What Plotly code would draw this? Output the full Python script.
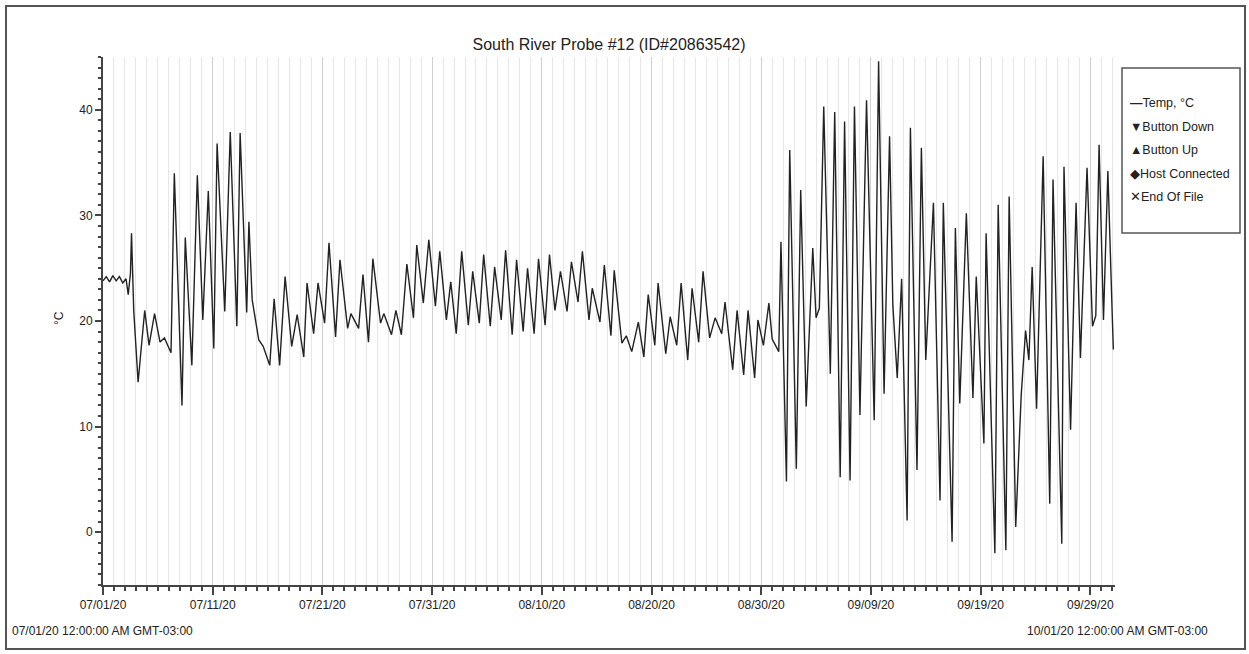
import pandas as pd
import plotly.graph_objects as go

# ---- data (day offset from 07/01/20 00:00, temperature °C) ----
day_offset = [
    0.0, 0.3, 0.6, 0.9, 1.2, 1.5, 1.8, 2.1, 2.3, 2.5, 2.6, 2.8, 3.2, 3.8, 4.2, 4.7, 5.2, 5.6, 6.2,
    6.5, 7.2, 7.5, 8.1, 8.6, 9.1, 9.6, 10.1, 10.4, 11.1, 11.6, 12.2, 12.5, 13.1, 13.3, 13.6,
    14.2, 14.6, 15.2, 15.6, 16.1, 16.6, 17.2, 17.7, 18.3, 18.6, 19.2, 19.6, 20.2, 20.6, 21.2,
    21.6, 22.3, 22.6, 23.3, 23.7, 24.2, 24.6, 25.3, 25.6, 26.3, 26.7, 27.2, 27.7, 28.3, 28.6,
    29.2, 29.7, 30.3, 30.7, 31.3, 31.7, 32.2, 32.7, 33.3, 33.7, 34.3, 34.7, 35.3, 35.7, 36.3,
    36.7, 37.3, 37.7, 38.3, 38.7, 39.3, 39.7, 40.3, 40.7, 41.2, 41.7, 42.3, 42.7, 43.3, 43.7,
    44.3, 44.6, 45.3, 45.7, 46.3, 46.6, 47.3, 47.7, 48.2, 48.8, 49.3, 49.7, 50.3, 50.6, 51.3,
    51.7, 52.3, 52.7, 53.3, 53.7, 54.3, 54.7, 55.3, 55.8, 56.4, 56.7, 57.4, 57.8, 58.4, 58.8,
    59.4, 59.7, 60.2, 60.7, 61.0, 61.6, 61.8, 62.3, 62.6, 63.2, 63.6, 64.1, 64.7, 65.0, 65.3,
    65.7, 66.3, 66.7, 67.2, 67.6, 68.1, 68.5, 69.0, 69.6, 70.3, 70.7, 71.2, 71.7, 72.0, 72.4,
    72.8, 73.3, 73.6, 74.2, 74.6, 75.0, 75.7, 76.3, 76.6, 77.4, 77.7, 78.1, 78.7, 79.3, 79.6, 80.3,
    80.5, 81.3, 81.6, 82.3, 82.6, 83.2, 83.7, 84.1, 84.4, 84.7, 85.1, 85.7, 86.3, 86.6, 87.4,
    87.6, 88.2, 88.7, 89.1, 89.7, 90.2, 90.5, 90.8, 91.2, 91.6, 92.0, 92.1,
]
temp_c = [
    23.8, 24.2, 23.7, 24.3, 23.8, 24.2, 23.6, 24.0, 22.5, 24.5, 28.3, 21.0, 14.2, 21.0, 17.7, 20.7, 18.0, 18.4, 17.0,
    34.0, 12.0, 27.9, 15.8, 33.8, 20.1, 32.3, 17.4, 36.8, 20.9, 37.9, 19.5, 37.8, 20.8, 29.4, 22.0,
    18.2, 17.6, 15.8, 22.1, 15.8, 24.2, 17.6, 20.6, 16.6, 23.6, 18.8, 23.6, 19.8, 27.4, 18.5,
    25.8, 19.3, 20.7, 19.3, 24.4, 18.0, 25.9, 19.8, 20.7, 18.7, 21.0, 18.7, 25.4, 20.3, 27.2,
    21.7, 27.7, 21.4, 26.6, 20.1, 23.7, 18.8, 26.6, 19.6, 24.7, 19.8, 26.3, 19.5, 25.1, 20.1,
    26.7, 18.7, 25.8, 19.0, 25.0, 18.8, 25.9, 19.6, 26.3, 21.0, 24.7, 20.9, 25.6, 21.8, 26.6,
    20.1, 23.1, 19.9, 25.3, 18.6, 24.8, 17.9, 18.6, 17.1, 19.9, 16.6, 22.5, 17.7, 23.6, 16.9,
    20.4, 17.7, 23.6, 16.3, 23.1, 18.0, 24.7, 18.4, 20.3, 18.8, 21.8, 15.4, 21.0, 14.9, 21.0,
    14.6, 20.1, 17.7, 21.7, 18.3, 17.1, 27.5, 4.8, 36.2, 6.0, 32.4, 11.9, 26.9, 20.3, 21.2,
    40.3, 15.0, 39.8, 5.2, 38.9, 4.9, 40.3, 11.1, 40.9, 10.6, 44.6, 13.1, 37.5, 21.5, 14.6,
    24.0, 1.1, 38.3, 5.9, 36.4, 16.3, 31.2, 3.0, 31.2, -0.9, 28.8, 12.2, 30.2, 12.7, 24.2, 8.4,
    28.3, -2.0, 31.0, -1.7, 31.8, 0.5, 13.0, 19.1, 16.3, 25.1, 11.7, 35.6, 2.7, 33.4, -1.1,
    34.6, 9.7, 31.2, 16.5, 34.5, 19.5, 20.5, 36.7, 20.1, 34.2, 20.5, 17.3,
]

start = pd.Timestamp("2020-07-01 00:00")
x_end = pd.Timestamp("2020-10-01 06:00")
times = start + pd.to_timedelta(day_offset, unit="D")

title_text = "South River Probe #12 (ID#20863542)"
y_label = "°C"
start_label = "07/01/20 12:00:00 AM GMT-03:00"
end_label = "10/01/20 12:00:00 AM GMT-03:00"
legend_items = ["<b>\u2014</b>Temp, °C", "\u25BCButton Down", "\u25B2Button Up", "\u25C6Host Connected", "\u2715End Of File"]

FONT = "Liberation Sans, Arial, sans-serif"
TXT = "#222"

W, H = 1249, 654
L, R, T, B = 103, 134, 57, 69
pw, ph = W - L - R, H - T - B


def px_x(px):
    return (px - L) / pw


def px_y(py):
    return (H - B - py) / ph


fig = go.Figure()
fig.add_trace(go.Scatter(x=times, y=temp_c, mode="lines",
                         line=dict(color="#222", width=1.4), showlegend=False,
                         name="Temp, °C"))

day_ms = 86400000
fig.update_layout(
    width=W, height=H,
    margin=dict(l=L, r=R, t=T, b=B),
    paper_bgcolor="white", plot_bgcolor="white",
    font=dict(family=FONT, size=12, color=TXT),
    title=dict(text=title_text, x=px_x(609), xref="paper", xanchor="center",
               y=1 - 44 / H, yanchor="middle", font=dict(size=16, color=TXT, family=FONT)),
    xaxis=dict(
        range=[start, x_end], type="date",
        tick0=start, dtick=10 * day_ms, tickformat="%m/%d/%y",
        ticks="outside", ticklen=8, tickwidth=1.5, tickcolor="#444",
        showgrid=True, gridcolor="#d0d0d0", gridwidth=1,
        showline=True, linecolor="#444", linewidth=2,
        zeroline=False,
        minor=dict(dtick=day_ms, tick0=start, ticks="outside", ticklen=4, tickwidth=1.5,
                   tickcolor="#444", showgrid=True, gridcolor="#e6e6e6", gridwidth=1),
        tickfont=dict(size=12, color=TXT),
    ),
    yaxis=dict(
        range=[-5, 45], dtick=10, tick0=0,
        ticks="outside", ticklen=6, tickwidth=1.5, tickcolor="#444",
        showgrid=False, zeroline=False,
        showline=True, linecolor="#444", linewidth=2,
        minor=dict(dtick=1, ticks="outside", ticklen=3, tickwidth=1.5, tickcolor="#444", showgrid=False),
        tickfont=dict(size=12, color=TXT),
    ),
)

annotations = [
    dict(text=y_label, x=px_x(50), y=px_y(318), xref="paper", yref="paper",
         textangle=-90, showarrow=False, font=dict(size=12, color=TXT)),
    dict(text=start_label, x=px_x(10), y=px_y(631), xref="paper", yref="paper",
         xanchor="left", yanchor="middle", showarrow=False, font=dict(size=12, color=TXT)),
    dict(text=end_label, x=px_x(1025), y=px_y(631), xref="paper", yref="paper",
         xanchor="left", yanchor="middle", showarrow=False, font=dict(size=12, color=TXT)),
]
leg_y = [103, 127, 150, 174, 197]
for txt, ly in zip(legend_items, leg_y):
    annotations.append(dict(text=txt, x=px_x(1128), y=px_y(ly), xref="paper", yref="paper",
                            xanchor="left", yanchor="middle", showarrow=False,
                            font=dict(size=12.5, color=TXT)))
fig.update_layout(annotations=annotations)

shapes = [
    # outer frame
    dict(type="rect", xref="paper", yref="paper", x0=px_x(6), x1=px_x(1245), y0=px_y(649), y1=px_y(6),
         line=dict(color="#555", width=2), fillcolor="rgba(0,0,0,0)", layer="below"),
    # legend box
    dict(type="rect", xref="paper", yref="paper", x0=px_x(1122), x1=px_x(1240), y0=px_y(233), y1=px_y(68),
         line=dict(color="#555", width=1.5), fillcolor="white"),
]
fig.update_layout(shapes=shapes)

fig.write_html("out.html")
